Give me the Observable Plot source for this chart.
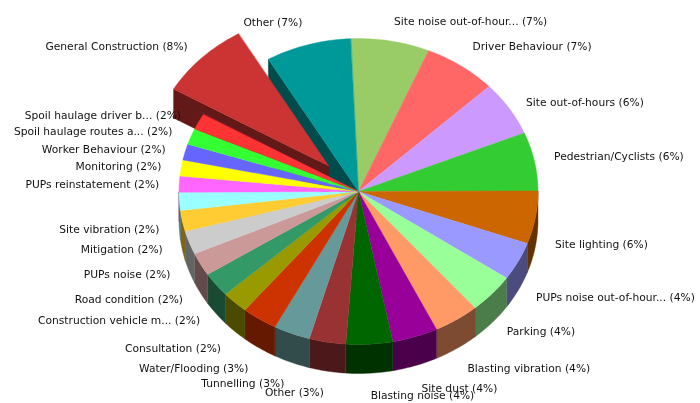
<!DOCTYPE html>
<html>
<head>
<meta charset="utf-8">
<script src="https://cdn.jsdelivr.net/npm/d3@7"></script>
<script src="https://cdn.jsdelivr.net/npm/@observablehq/plot@0.6"></script>
<style>
html,body{margin:0;padding:0;background:#fff}
svg{display:block;filter:blur(0.35px)}
</style>
</head>
<body>
<div id="chart"></div>
<script>
const names = ["Site noise out-of-hour...","Driver Behaviour","Site out-of-hours","Pedestrian/Cyclists","Site lighting","PUPs noise out-of-hour...","Parking","Blasting vibration","Site dust","Blasting noise","Other","Tunnelling","Water/Flooding","Consultation","Construction vehicle m...","Road condition","PUPs noise","Mitigation","Site vibration","PUPs reinstatement","Monitoring","Worker Behaviour","Spoil haulage routes a...","Spoil haulage driver b...","General Construction","Other"];
const shares = [7.1,6.6,5.8,6.2,5.6,4.05,4.2,4.1,4.1,4.2,3.3,3.3,3.2,2.4,2.6,2.45,2.5,2.2,1.9,1.7,1.7,1.7,1.7,1.7,8.25,7.7];
const percents = [7,7,6,6,6,4,4,4,4,4,3,3,3,2,2,2,2,2,2,2,2,2,2,2,8,7];
const colors = ["#99CC66","#FF6666","#CC99FF","#33CC33","#CC6600","#9999FF","#99FF99","#FF9966","#990099","#006600","#993333","#669999","#CC3300","#999900","#339966","#CC9999","#CCCCCC","#FFCC33","#99FFFF","#FF66FF","#FFFF00","#6666FF","#33FF33","#FF3333","#CC3333","#009999"];
const explodedName = "General Construction";

// layout of the pie in the frame
const W = 700, H = 403, cx = 358, cy = 191, rx = 179.5, ry = 153, depthPx = 29;
const depth = depthPx / ry, explode = 0.235, gapX = 20 / rx, gapY = 22 / ry;
const startDeg = -2.5, rad = Math.PI / 180;
// the original's label layout pushes some labels off the radial rule (pixels, down is positive)
const labelNudgeY = [2,-1,6,-1,-6,-3,-6,1,2,0,0,1,2,1,-6,-4,-4,-5,-2,1,2,3,3,4,4,-1];

const arcs = d3.pie().sort(null).value(d => d)
  .startAngle(startDeg * rad).endAngle((startDeg + 360) * rad)(shares);

const slices = arcs.map((a, i) => {
  const mid = (a.startAngle + a.endAngle) / 2;
  const out = names[i] === explodedName ? explode : 0;
  return {i, a0: a.startAngle, a1: a.endAngle, mid, dx: out * Math.sin(mid), dy: out * Math.cos(mid),
          top: colors[i], side: d3.rgb(colors[i]).darker(2).formatHex(), exploded: out > 0,
          label: `${names[i]} (${percents[i]}%)`};
});

const pt = (s, a, r = 1, drop = 0) => ({x: s.dx + r * Math.sin(a), y: s.dy + r * Math.cos(a) - drop});
const arcPts = (s, a0, a1) => d3.range(0, 1.0001, 1 / Math.max(2, Math.ceil((a1 - a0) / rad))).map(t => a0 + (a1 - a0) * t);

const poly = (id, fill, pts) => pts.map(p => ({...p, id, fill}));
const topFace = s => poly("t" + s.i, s.top, [{x: s.dx, y: s.dy}, ...arcPts(s, s.a0, s.a1).map(a => pt(s, a))]);
const rimWall = s => {
  const a0 = Math.max(s.a0, 90 * rad), a1 = Math.min(s.a1, 270 * rad);
  if (a1 <= a0) return [];
  const as = arcPts(s, a0, a1);
  return poly("r" + s.i, s.side, [...as.map(a => pt(s, a)), ...as.slice().reverse().map(a => pt(s, a, 1, depth))]);
};
const radialWall = (s, a) => poly("w" + s.i, s.side, [{x: s.dx, y: s.dy}, pt(s, a), pt(s, a, 1, depth), {x: s.dx, y: s.dy - depth}]);

const ex = slices.find(s => s.exploded);
const next = slices[(ex.i + 1) % slices.length];
const walls = [...slices.flatMap(rimWall), ...radialWall(next, next.a0), ...radialWall(ex, ex.a0), ...rimWall(ex)];
const tops = [...topFace(ex), ...slices.filter(s => !s.exploded).flatMap(topFace)];

const labels = slices.map(s => {
  const sn = Math.sin(s.mid), cs = Math.cos(s.mid);
  const lower = cs < 0;
  return {x: s.dx + sn + gapX * sn, y: s.dy + cs + gapY * cs - (lower ? depth : 0) - labelNudgeY[s.i] / ry, label: s.label, right: sn > 0};
});

const face = (data) => Plot.line(data, {x: "x", y: "y", z: "id", fill: "fill", stroke: "fill", strokeWidth: 0.4, curve: "linear-closed"});
const text = (data, anchor) => Plot.text(data, {x: "x", y: "y", text: "label", textAnchor: anchor, lineAnchor: "middle", fill: "#111"});

const chart = Plot.plot({
  width: W, height: H, margin: 0,
  style: {fontFamily: "'DejaVu Sans'", fontSize: "10.7px", background: "#fff"},
  x: {domain: [-cx / rx, (W - cx) / rx], range: [0, W], axis: null},
  y: {domain: [(cy - H) / ry, cy / ry], range: [H, 0], axis: null},
  color: {type: "identity"},
  marks: [
    face(walls),
    face(tops),
    text(labels.filter(d => d.right), "start"),
    text(labels.filter(d => !d.right), "end")
  ]
});
document.getElementById("chart").append(chart);
</script>
</body>
</html>
